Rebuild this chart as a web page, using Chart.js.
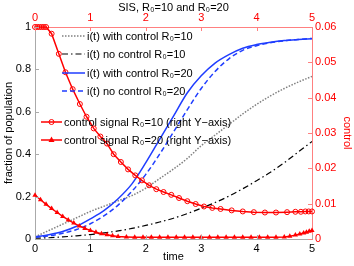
<!DOCTYPE html>
<html lang="en">
<head>
    <meta charset="UTF-8">
    <title>SIS, R0=10 and R0=20</title>
    <script src="https://cdn.jsdelivr.net/npm/chart.js"></script>
    <style>
        html, body { margin: 0; padding: 0; background: #fff; }
    </style>
</head>
<body>
    <canvas id="myChart" width="354" height="266"></canvas>

    <script>
        // time grid of the i(t) curves
        var tGrid = [0, 0.25, 0.5, 0.75, 1, 1.25, 1.5, 1.75, 2, 2.25, 2.5, 2.75, 3, 3.25, 3.5, 3.75, 4, 4.25, 4.5, 4.75, 5];
        var withCtrl10 = [0.01, 0.04, 0.07, 0.1, 0.13, 0.155, 0.18, 0.205, 0.24, 0.285, 0.33, 0.38, 0.44, 0.49, 0.54, 0.59, 0.635, 0.675, 0.71, 0.74, 0.767];
        var noCtrl10 = [0.004, 0.006, 0.01, 0.015, 0.021, 0.029, 0.038, 0.05, 0.064, 0.08, 0.098, 0.12, 0.145, 0.172, 0.202, 0.237, 0.275, 0.315, 0.36, 0.41, 0.46];
        var withCtrl20 = [0.01, 0.02, 0.035, 0.06, 0.095, 0.135, 0.19, 0.26, 0.36, 0.47, 0.58, 0.69, 0.77, 0.83, 0.87, 0.9, 0.917, 0.928, 0.936, 0.941, 0.945];
        var noCtrl20 = [0.008, 0.015, 0.027, 0.045, 0.072, 0.11, 0.16, 0.225, 0.305, 0.4, 0.505, 0.61, 0.71, 0.79, 0.85, 0.89, 0.912, 0.926, 0.935, 0.941, 0.946];

        // control signals (right axis), at the solver's time points
        var tCtrl10 = [0, 0.04, 0.08, 0.12, 0.16, 0.2, 0.3, 0.43, 0.55, 0.68, 0.81, 0.93, 1.06, 1.18, 1.3, 1.42, 1.55, 1.68, 1.81, 1.93, 2.06, 2.19, 2.32, 2.46, 2.6, 2.75, 2.9, 3.05, 3.2, 3.35, 3.55, 3.75, 3.95, 4.15, 4.35, 4.55, 4.7, 4.8, 4.88, 4.94, 5];
        var ctrl10 = [0.06, 0.06, 0.06, 0.06, 0.06, 0.06, 0.0581, 0.0524, 0.0472, 0.0424, 0.0382, 0.0346, 0.0313, 0.029, 0.027, 0.024, 0.0218, 0.0197, 0.018, 0.0166, 0.0152, 0.0141, 0.0133, 0.0125, 0.0116, 0.0107, 0.0099, 0.0092, 0.0088, 0.0085, 0.0081, 0.0078, 0.0076, 0.0075, 0.0075, 0.0076, 0.0077, 0.0077, 0.0078, 0.0078, 0.0078];
        var tCtrl20 = [0, 0.1, 0.2, 0.3, 0.4, 0.5, 0.6, 0.7, 0.8, 0.9, 1, 1.1, 1.2, 1.3, 1.4, 1.5, 1.65, 1.8, 1.95, 2.1, 2.25, 2.4, 2.55, 2.7, 2.85, 3, 3.15, 3.3, 3.45, 3.6, 3.75, 3.9, 4.05, 4.2, 4.35, 4.5, 4.6, 4.7, 4.78, 4.85, 4.9, 4.95, 5];
        var ctrl20 = [0.0124, 0.0111, 0.0098, 0.0086, 0.0075, 0.0064, 0.0054, 0.0045, 0.0037, 0.003, 0.0024, 0.0019, 0.0015, 0.0012, 0.0009, 0.0007, 0.0006, 0.0005, 0.0005, 0.0005, 0.0005, 0.0005, 0.0005, 0.0005, 0.0005, 0.0005, 0.0005, 0.0005, 0.0005, 0.0005, 0.0005, 0.0005, 0.0005, 0.0005, 0.0005, 0.0006, 0.0008, 0.0011, 0.0014, 0.0017, 0.0019, 0.0022, 0.0024];

        // tick labels
        var xTicks = ['0', '1', '2', '3', '4', '5'];
        var yLeftTicks = ['0', '0.2', '0.4', '0.6', '0.8', '1'];
        var yRightTicks = ['0', '0.01', '0.02', '0.03', '0.04', '0.05', '0.06'];

        var labels = ['i(t) with control R\u2080=10', 'i(t) no control R\u2080=10', 'i(t) with control R\u2080=20',
            'i(t) no control R\u2080=20', 'control signal R\u2080=10 (right Y\u2212axis)', 'control signal R\u2080=20 (right Y\u2212axis)'];

        var FONT = "'Liberation Sans', Arial, Helvetica, sans-serif";
        var RED = '#ff0000';
        var BLUE = '#1f3dff';

        function pts(xs, ys) {
            return xs.map(function (x, i) { return { x: x, y: ys[i] }; });
        }

        // inward tick marks, MATLAB style
        var innerTicks = {
            id: 'innerTicks',
            afterDraw: function (chart) {
                var c = chart.ctx, a = chart.chartArea;
                c.save();
                c.lineWidth = 1;
                function vt(scale, color, yFrom, dir) {
                    c.strokeStyle = color;
                    scale.ticks.forEach(function (t) {
                        var x = Math.round(scale.getPixelForValue(t.value)) + 0.5;
                        c.beginPath(); c.moveTo(x, yFrom); c.lineTo(x, yFrom + dir * 4); c.stroke();
                    });
                }
                function ht(scale, color, xFrom, dir) {
                    c.strokeStyle = color;
                    scale.ticks.forEach(function (t) {
                        var y = Math.round(scale.getPixelForValue(t.value)) + 0.5;
                        c.beginPath(); c.moveTo(xFrom, y); c.lineTo(xFrom + dir * 4, y); c.stroke();
                    });
                }
                vt(chart.scales.x, '#aaaaaa', a.bottom, -1);
                vt(chart.scales.x2, '#ff8080', a.top, 1);
                ht(chart.scales.y, '#aaaaaa', a.left, 1);
                ht(chart.scales.y2, '#ff8080', a.right, -1);
                c.restore();
            }
        };

        // legend drawn inside the axes
        var innerLegend = {
            id: 'innerLegend',
            afterDraw: function (chart) {
                var c = chart.ctx;
                var rows = [
                    { y: 36, x0: 62, x1: 85, tx: 87 },
                    { y: 54, x0: 62, x1: 85, tx: 87 },
                    { y: 73, x0: 62, x1: 85, tx: 87 },
                    { y: 91, x0: 62, x1: 85, tx: 87 },
                    { y: 122, x0: 41, x1: 62, tx: 64 },
                    { y: 140, x0: 41, x1: 62, tx: 64 }
                ];
                c.save();
                c.font = '11px ' + FONT;
                c.textBaseline = 'middle';
                chart.data.datasets.forEach(function (ds, i) {
                    var r = rows[i];
                    c.strokeStyle = ds.borderColor;
                    c.lineWidth = ds.borderWidth;
                    c.setLineDash(ds.borderDash || []);
                    c.beginPath(); c.moveTo(r.x0, r.y); c.lineTo(r.x1, r.y); c.stroke();
                    c.setLineDash([]);
                    if (ds.pointRadius > 0) {
                        var m = (r.x0 + r.x1) / 2;
                        c.beginPath();
                        if (ds.pointStyle === 'triangle') {
                            c.moveTo(m, r.y - 3.4); c.lineTo(m + 3, r.y + 2); c.lineTo(m - 3, r.y + 2); c.closePath();
                            c.fillStyle = RED; c.fill();
                        } else {
                            c.lineWidth = 1;
                            c.arc(m, r.y, 2.5, 0, Math.PI * 2);
                            c.stroke();
                        }
                    }
                    c.fillStyle = '#000';
                    c.fillText(ds.label, r.tx, r.y + 1);
                });
                c.restore();
            }
        };

        var ctx = document.getElementById('myChart');
        var myChart = new Chart(ctx, {
            type: 'line',
            data: {
                datasets: [{
                    label: labels[0],
                    data: pts(tGrid, withCtrl10),
                    yAxisID: 'y',
                    borderColor: '#808080',
                    borderWidth: 1.5,
                    borderDash: [1.5, 1.5],
                    pointRadius: 0,
                    cubicInterpolationMode: 'monotone',
                    order: 4
                }, {
                    label: labels[1],
                    data: pts(tGrid, noCtrl10),
                    yAxisID: 'y',
                    borderColor: '#000000',
                    borderWidth: 1.2,
                    borderDash: [6, 3, 1.5, 3],
                    pointRadius: 0,
                    cubicInterpolationMode: 'monotone',
                    order: 3
                }, {
                    label: labels[2],
                    data: pts(tGrid, withCtrl20),
                    yAxisID: 'y',
                    borderColor: BLUE,
                    borderWidth: 1.5,
                    pointRadius: 0,
                    cubicInterpolationMode: 'monotone',
                    order: 2
                }, {
                    label: labels[3],
                    data: pts(tGrid, noCtrl20),
                    yAxisID: 'y',
                    borderColor: BLUE,
                    borderWidth: 1.5,
                    borderDash: [5, 3],
                    pointRadius: 0,
                    cubicInterpolationMode: 'monotone',
                    order: 2
                }, {
                    label: labels[4],
                    data: pts(tCtrl10, ctrl10),
                    yAxisID: 'y2',
                    borderColor: RED,
                    borderWidth: 1.5,
                    pointStyle: 'circle',
                    pointRadius: 2.5,
                    pointBorderWidth: 1,
                    pointBorderColor: RED,
                    pointBackgroundColor: 'rgba(0,0,0,0)',
                    tension: 0,
                    clip: false,
                    order: 0
                }, {
                    label: labels[5],
                    data: pts(tCtrl20, ctrl20),
                    yAxisID: 'y2',
                    borderColor: RED,
                    borderWidth: 1.5,
                    pointStyle: 'triangle',
                    pointRadius: 3,
                    pointBorderWidth: 0,
                    pointBackgroundColor: RED,
                    tension: 0,
                    clip: false,
                    order: 0
                }]
            },
            options: {
                responsive: false,
                animation: false,
                devicePixelRatio: 1,
                layout: { padding: 0 },
                plugins: {
                    legend: { display: false },
                    tooltip: { enabled: false }
                },
                scales: {
                    x: {
                        type: 'linear', position: 'bottom', min: 0, max: 5,
                        afterFit: function (s) { s.height = 27; },
                        ticks: {
                            stepSize: 1, color: '#000', padding: 3, maxRotation: 0,
                            font: { family: FONT, size: 11 },
                            callback: function (v, i) { return xTicks[i]; }
                        },
                        grid: { drawOnChartArea: false, drawTicks: false },
                        border: { color: '#aaaaaa' },
                        title: { display: true, text: 'time', color: '#000', padding: { top: 0, bottom: 2 }, font: { family: FONT, size: 11 } }
                    },
                    x2: {
                        type: 'linear', position: 'top', min: 0, max: 5,
                        afterFit: function (s) { s.height = 27; },
                        ticks: {
                            stepSize: 1, color: RED, padding: 2, maxRotation: 0,
                            font: { family: FONT, size: 11 },
                            callback: function (v, i) { return xTicks[i]; }
                        },
                        grid: { drawOnChartArea: false, drawTicks: false },
                        border: { color: '#ff8080' },
                        title: { display: true, text: 'SIS, R\u2080=10 and R\u2080=20', color: '#000', padding: { top: 1, bottom: 0 }, font: { family: FONT, size: 11 } }
                    },
                    y: {
                        type: 'linear', position: 'left', min: 0, max: 1,
                        afterFit: function (s) { s.width = 35; },
                        ticks: {
                            stepSize: 0.2, color: '#000', padding: 4,
                            font: { family: FONT, size: 11 },
                            callback: function (v, i) { return yLeftTicks[i]; }
                        },
                        grid: { drawOnChartArea: false, drawTicks: false },
                        border: { color: '#aaaaaa' },
                        title: { display: true, text: 'fraction of population', color: '#000', padding: { top: 2, bottom: 0 }, font: { family: FONT, size: 11 } }
                    },
                    y2: {
                        type: 'linear', position: 'right', min: 0, max: 0.06,
                        afterFit: function (s) { s.width = 42; },
                        ticks: {
                            stepSize: 0.01, color: RED, padding: 3,
                            font: { family: FONT, size: 11 },
                            callback: function (v, i) { return yRightTicks[i]; }
                        },
                        grid: { drawOnChartArea: false, drawTicks: false },
                        border: { color: '#ff8080' },
                        title: { display: true, text: 'control', color: RED, padding: { top: 0, bottom: 3 }, font: { family: FONT, size: 11 } }
                    }
                }
            },
            plugins: [innerTicks, innerLegend]
        });
    </script>
</body>
</html>
